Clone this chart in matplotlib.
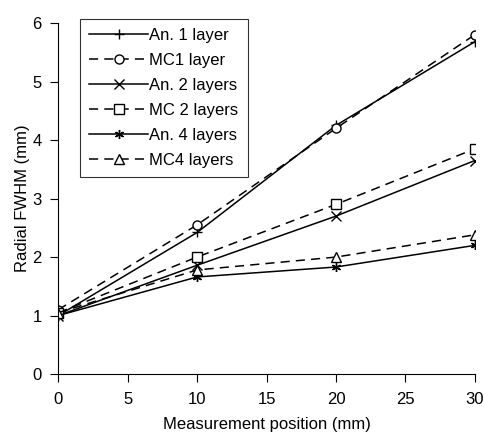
import numpy as np
import matplotlib
matplotlib.use('Agg')
import matplotlib.pyplot as plt

plt.rcParams['font.family'] = ['Liberation Sans', 'DejaVu Sans']

# measurement positions (mm)
pos = [0, 10, 20, 30]
an1 = [1.0, 2.42, 4.25, 5.68]
mc1 = [1.1, 2.55, 4.2, 5.8]
an2 = [1.0, 1.86, 2.7, 3.65]
mc2 = [1.05, 2.0, 2.9, 3.85]
an4 = [1.0, 1.66, 1.83, 2.2]
mc4 = [1.05, 1.78, 2.0, 2.38]

labels = ['An. 1 layer', 'MC1 layer', 'An. 2 layers', 'MC 2 layers', 'An. 4 layers', 'MC4 layers']

fig = plt.figure(figsize=(4.85, 4.34), dpi=100)
ax = fig.add_axes([0.12, 0.138, 0.859, 0.809])

kw = dict(color='k', lw=1.1, ms=6.5, mfc='white', mew=1.0)
ax.plot(pos, an1, '-', marker='+', label=labels[0], **kw)
ax.plot(pos, mc1, '--', marker='o', label=labels[1], dashes=(6, 4), **kw)
ax.plot(pos, an2, '-', marker='x', label=labels[2], **kw)
ax.plot(pos, mc2, '--', marker='s', label=labels[3], dashes=(6, 4), **kw)
ax.plot(pos, an4, '-', marker=(6, 2, 0), label=labels[4], **kw)
ax.plot(pos, mc4, '--', marker='^', label=labels[5], dashes=(6, 4), **kw)

ax.set_xlim(0, 30)
ax.set_ylim(0, 6)
ax.set_xticks(range(0, 31, 5))
ax.set_yticks(range(0, 7))
ax.spines['top'].set_visible(False)
ax.spines['right'].set_visible(False)
ax.tick_params(direction='out', length=6, labelsize=12, pad=6)
ax.tick_params(axis='x', pad=7)
ax.set_xlabel('Measurement position (mm)', fontsize=12, labelpad=7)
ax.set_ylabel('Radial FWHM (mm)', fontsize=12, labelpad=1.5)

leg = ax.legend(loc='upper left', bbox_to_anchor=(0.053, 1.012), borderaxespad=0,
                fontsize=12, frameon=True, fancybox=False, edgecolor='k',
                handlelength=3.5, labelspacing=0.6, borderpad=0.55, handletextpad=0.1)
leg.get_frame().set_linewidth(0.8)

fig.savefig('out.png', dpi=100)
